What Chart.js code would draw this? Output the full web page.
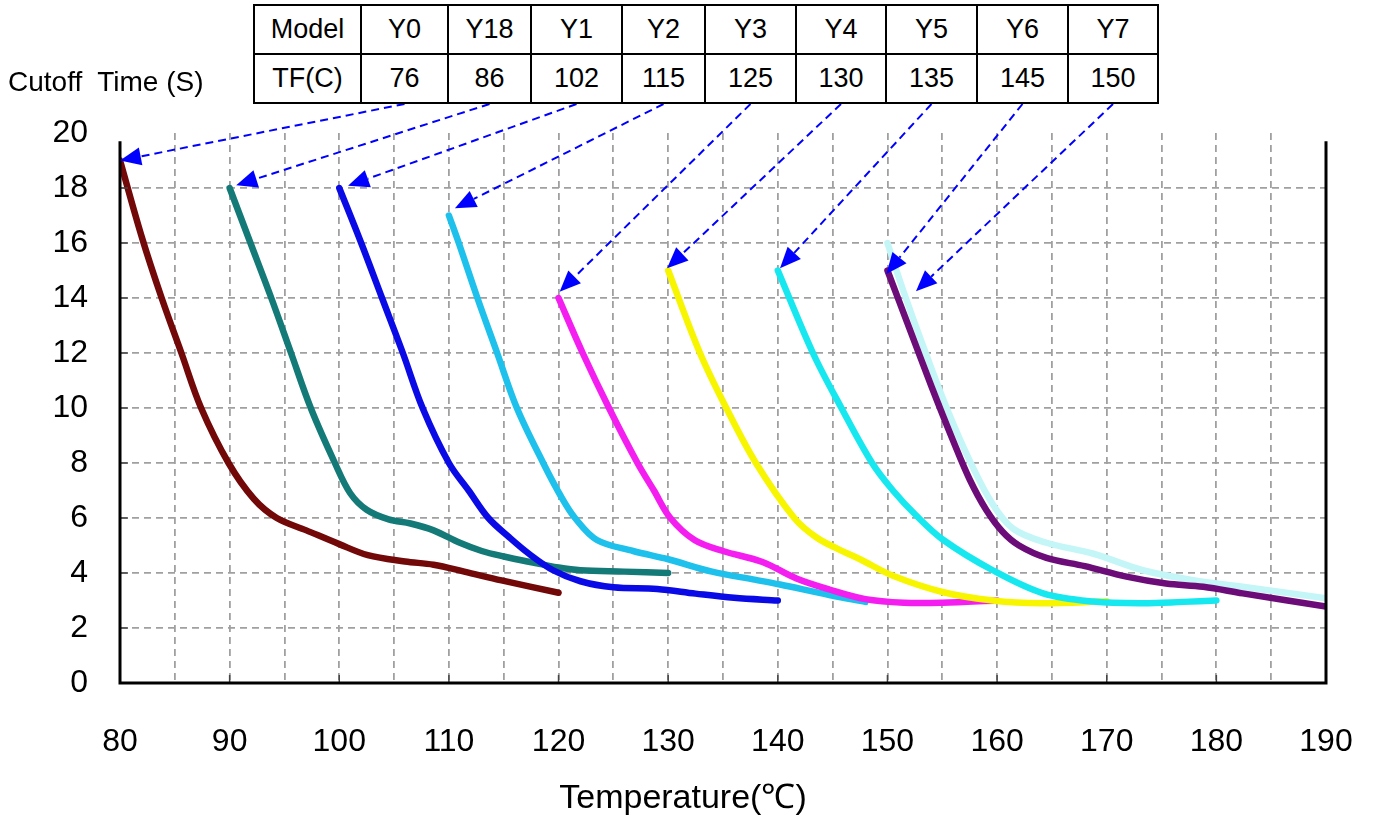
<!DOCTYPE html>
<html>
<head>
<meta charset="utf-8">
<script src="https://cdn.jsdelivr.net/npm/chart.js@4.4.1/dist/chart.umd.min.js"></script>
<style>
    html, body { margin: 0; padding: 0; background: #fff; }
    body { width: 1375px; height: 816px; position: relative; overflow: hidden;
           font-family: Arial, "Liberation Sans", sans-serif; color: #000; }
    #chart { position: absolute; left: 0; top: 0; }
    #modelTable { position: absolute; left: 253px; top: 4px; border-collapse: collapse; background: #fff; }
    #modelTable td { border: 2px solid #000; height: 47px; padding: 0; text-align: center;
                     font-size: 27px; line-height: 47px; }
    #cutoffLabel { position: absolute; left: 8px; top: 66px; font-size: 28px; white-space: pre; }
    #xTitle { position: absolute; left: 433px; width: 500px; top: 772px; text-align: center; font-size: 34px; }
</style>
</head>
<body>
<canvas id="chart" width="1375" height="816"></canvas>
<table id="modelTable"></table>
<div id="cutoffLabel">Cutoff  Time (S)</div>
<div id="xTitle">Temperature(℃)</div>
<script>
    // table header values
    const models = ['Y0', 'Y18', 'Y1', 'Y2', 'Y3', 'Y4', 'Y5', 'Y6', 'Y7'];
    const tfValues = [76, 86, 102, 115, 125, 130, 135, 145, 150];

    // curves: temperature (C) / cutoff time (s)
    const y0Temp = [80, 82, 83.8, 85.6, 87.4, 89.9, 92.2, 94.3, 97, 100, 102.6, 106, 108.6, 111.4, 114.8, 120];
    const y0Time = [19, 16.2, 14, 12, 10, 8, 6.7, 6.0, 5.55, 5.05, 4.65, 4.42, 4.3, 4.05, 3.73, 3.28];

    const y18Temp = [90, 91.9, 93.8, 95.6, 97.4, 99.6, 101, 102.5, 104.5, 106.5, 108.6, 111, 113, 115, 117.4, 120, 122, 126, 130];
    const y18Time = [18, 16, 14, 12, 10, 8, 6.9, 6.3, 5.95, 5.8, 5.55, 5.1, 4.8, 4.6, 4.4, 4.2, 4.1, 4.05, 4.0];

    const y1Temp = [100, 102, 103.9, 105.8, 107.6, 110, 111.8, 113.6, 115.5, 117.3, 119.5, 122, 125, 129, 132.5, 136, 140];
    const y1Time = [18, 16, 14, 12, 10, 8, 7, 6, 5.3, 4.7, 4.1, 3.7, 3.48, 3.42, 3.25, 3.1, 3.0];

    const y2Temp = [110, 110.9, 112.6, 114.4, 116.2, 118.6, 120.2, 121.5, 123.5, 126.8, 130, 134, 138, 140.2, 144.7, 148];
    const y2Time = [17, 16, 14, 12, 10, 8, 6.8, 6, 5.2, 4.8, 4.5, 4.05, 3.75, 3.58, 3.2, 2.95];

    const y3Temp = [120, 122.2, 124.6, 127.2, 128.7, 130.2, 132.4, 135, 138.6, 141.7, 144.7, 148, 151.5, 155, 160];
    const y3Time = [14, 12, 10, 8, 7, 6, 5.2, 4.8, 4.4, 3.8, 3.4, 3.05, 2.92, 2.92, 3.0];

    const y4Temp = [130, 132.9, 135.3, 138, 141.5, 143.5, 145.6, 147.5, 150.5, 155.1, 159.6, 164, 170];
    const y4Time = [15, 12, 10, 8, 6, 5.3, 4.85, 4.5, 3.9, 3.3, 3.0, 2.9, 2.97];

    const y5Temp = [140, 143.2, 145.8, 148.6, 150.5, 152.6, 155.1, 159.6, 164.2, 168.8, 173.3, 177, 180];
    const y5Time = [15, 12, 10, 8, 7, 6.1, 5.2, 4.1, 3.26, 2.96, 2.9, 2.95, 3.0];

    const y6Temp = [150, 152, 154, 156, 157.5, 159, 160.5, 162, 164.5, 168, 171.8, 175.4, 178.8, 182.4, 190];
    const y6Time = [15, 12.9, 10.8, 8.8, 7.4, 6.3, 5.5, 5.0, 4.55, 4.25, 3.87, 3.62, 3.5, 3.26, 2.78];

    const y7Temp = [150, 151.5, 153.3, 155.4, 157.6, 159.6, 161.5, 164.5, 168.8, 173.3, 177.9, 182.4, 190];
    const y7Time = [16, 14.2, 12.2, 10, 8, 6.5, 5.6, 5.1, 4.7, 4.1, 3.74, 3.5, 3.08];

    // where each dashed arrow points (temperature, time)
    const arrowTemp = [80, 90.6, 100.8, 110.55, 120.1, 129.9, 140.2, 149.9, 152.6];
    const arrowTime = [19, 18.1, 18.08, 17.26, 14.23, 15.08, 15.08, 14.87, 14.25];

    const xTicks = [90, 100, 110, 120, 130, 140, 150, 160, 170, 180];
    const yTicks = [2, 4, 6, 8, 10, 12, 14, 16, 18];

    const lineColors = ['#720808', '#137a78', '#0a0ae6', '#1ec0ec', '#f51ef0', '#f8f500', '#17e8f0', '#6c0c78', '#c4f6f8'];
    const drawOrder = [9, 8, 7, 6, 5, 4, 3, 1, 2];
    const colWidths = [107, 87, 83, 91, 83, 91, 90, 91, 91, 90];

    // build the model table
    const table = document.getElementById('modelTable');
    const row1 = table.insertRow();
    const row2 = table.insertRow();
    ['Model'].concat(models).forEach((m, i) => {
        const c = row1.insertCell();
        c.textContent = m;
        c.style.width = (colWidths[i] - 2) + 'px';
    });
    ['TF(C)'].concat(tfValues).forEach((v, i) => {
        const c = row2.insertCell();
        c.textContent = v;
        c.style.width = (colWidths[i] - 2) + 'px';
    });

    const temps = [y0Temp, y18Temp, y1Temp, y2Temp, y3Temp, y4Temp, y5Temp, y6Temp, y7Temp];
    const times = [y0Time, y18Time, y1Time, y2Time, y3Time, y4Time, y5Time, y6Time, y7Time];

    const datasets = models.map((m, i) => ({
        label: m,
        data: temps[i].map((t, k) => ({ x: t, y: times[i][k] })),
        borderColor: lineColors[i],
        borderWidth: 6.5,
        borderCapStyle: 'round',
        borderJoinStyle: 'round',
        tension: 0.35,
        pointRadius: 0,
        fill: false,
        order: drawOrder[i]
    }));

    function drawArrow(ctx, sx, sy, tx, ty) {
        const ang = Math.atan2(ty - sy, tx - sx);
        const headLen = 21, headHalf = 9;
        const bx = tx - headLen * Math.cos(ang);
        const by = ty - headLen * Math.sin(ang);
        ctx.save();
        ctx.strokeStyle = '#0000ff';
        ctx.fillStyle = '#0000ff';
        ctx.lineWidth = 2;
        ctx.setLineDash([8, 5]);
        ctx.beginPath();
        ctx.moveTo(sx, sy);
        ctx.lineTo(bx, by);
        ctx.stroke();
        ctx.setLineDash([]);
        ctx.beginPath();
        ctx.moveTo(tx, ty);
        ctx.lineTo(bx + headHalf * Math.sin(ang), by - headHalf * Math.cos(ang));
        ctx.lineTo(bx - headHalf * Math.sin(ang), by + headHalf * Math.cos(ang));
        ctx.closePath();
        ctx.fill();
        ctx.restore();
    }

    const frame = {
        id: 'frame',
        afterDatasetsDraw(chart) {
            const ctx = chart.ctx;
            const xs = chart.scales.x, ys = chart.scales.y;
            const top = ys.getPixelForValue(19.7);
            const bottom = ys.getPixelForValue(0);
            ctx.save();
            // small inner ticks
            ctx.strokeStyle = '#444';
            ctx.lineWidth = 1.5;
            xTicks.forEach(v => {
                const px = xs.getPixelForValue(v);
                ctx.beginPath(); ctx.moveTo(px, bottom); ctx.lineTo(px, bottom - 8); ctx.stroke();
            });
            yTicks.forEach(v => {
                const py = ys.getPixelForValue(v);
                ctx.beginPath(); ctx.moveTo(xs.left, py); ctx.lineTo(xs.left + 8, py); ctx.stroke();
            });
            // axis frame
            ctx.strokeStyle = '#000';
            ctx.lineWidth = 3;
            ctx.beginPath();
            ctx.moveTo(xs.left, top);
            ctx.lineTo(xs.left, bottom);
            ctx.lineTo(xs.right, bottom);
            ctx.lineTo(xs.right, top);
            ctx.stroke();
            ctx.restore();

            // arrows from the table cells to the curves
            const cells = table.rows[1].cells;
            for (let i = 0; i < models.length; i++) {
                const r = cells[i + 1].getBoundingClientRect();
                const sx = r.left + r.width / 2;
                const sy = r.bottom + 1;
                drawArrow(ctx, sx, sy, xs.getPixelForValue(arrowTemp[i]), ys.getPixelForValue(arrowTime[i]));
            }
        }
    };

    const gridColor = '#a0a0a0';
    const tickFont = { family: 'Arial, "Liberation Sans", sans-serif', size: 32 };

    new Chart(document.getElementById('chart').getContext('2d'), {
        type: 'line',
        data: { datasets: datasets },
        plugins: [frame],
        options: {
            responsive: false,
            animation: false,
            devicePixelRatio: 1,
            layout: { padding: { top: 133, right: 49, left: 0, bottom: 0 } },
            plugins: {
                legend: { display: false },
                tooltip: { enabled: false }
            },
            scales: {
                x: {
                    type: 'linear',
                    min: 80,
                    max: 190,
                    afterFit: s => { s.height = 133; s.paddingLeft = 0; s.paddingRight = 0; },
                    ticks: {
                        stepSize: 5,
                        autoSkip: false,
                        maxRotation: 0,
                        color: '#000',
                        font: tickFont,
                        padding: 40,
                        callback: v => (v % 10 === 0 ? v : '')
                    },
                    grid: {
                        drawTicks: false,
                        lineWidth: 1.8,
                        color: c => (c.tick && (c.tick.value === 80 || c.tick.value === 190) ? 'rgba(0,0,0,0)' : gridColor)
                    },
                    border: { display: false, dash: [7, 5] }
                },
                y: {
                    min: 0,
                    max: 20,
                    afterFit: s => { s.width = 120; s.paddingTop = 0; s.paddingBottom = 0; },
                    ticks: {
                        stepSize: 2,
                        color: '#000',
                        font: tickFont,
                        padding: 32
                    },
                    grid: {
                        drawTicks: false,
                        lineWidth: 1.8,
                        color: c => (c.tick && (c.tick.value === 0 || c.tick.value === 20) ? 'rgba(0,0,0,0)' : gridColor)
                    },
                    border: { display: false, dash: [7, 5] }
                }
            }
        }
    });
</script>
</body>
</html>
